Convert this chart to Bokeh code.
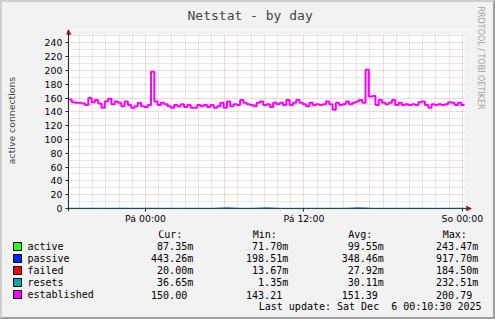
import numpy as np
from bokeh.plotting import figure
from bokeh.layouts import column
from bokeh.models import FixedTicker, Title, Arrow, NormalHead, Range1d, Span
from bokeh.core.properties import value
from bokeh.embed import file_html
from bokeh.resources import INLINE

# ---------------- data ----------------
TITLE = "Netstat - by day"
Y_LABEL = "active connections"
WATERMARK = "RRDTOOL / TOBI OETIKER"
X_TICKS = [0, 12, 24]                       # hours relative to Friday 00:00
X_TICK_LABELS = ["Pá 00:00", "Pá 12:00", "So 00:00"]
Y_TICKS = list(range(0, 241, 20))
T_START = -35 / 6                           # Thu 18:10
T_END = 24 + 1 / 6                          # Sat 00:10

# established connections, 15-minute samples from T_START
established = [158,
    158, 154, 153, 153, 152, 150, 160, 154, 157, 152, 146, 155, 159, 151, 155, 153,
    148, 155, 150, 146, 148, 153, 148, 147, 150, 198, 155, 150, 153, 151, 148, 146,
    150, 148, 151, 147, 150, 146, 146, 150, 148, 150, 147, 150, 146, 148, 153, 146,
    155, 148, 151, 150, 157, 153, 151, 150,
    148, 153, 155, 150, 151, 147, 153, 151, 153, 150, 157, 150, 153, 157, 153, 151,
    148, 153, 150, 151, 150, 151, 155, 151, 143, 153, 150, 151, 155, 151, 153, 155,
    157, 153, 201, 162, 163, 150, 157, 153, 151, 153, 157, 150, 153, 150, 151, 150,
    151, 150, 154, 155, 150, 146, 151, 150, 151, 150, 151, 154, 153, 150, 153, 150]

# small series, hourly samples from T_START
active = [0.09, 0.10, 0.08, 0.11, 0.09, 0.12, 0.10, 0.08, 0.09, 0.24, 0.10, 0.09, 0.08,
          0.07, 0.09, 0.11, 0.10, 0.09, 0.12, 0.10, 0.08, 0.09, 0.10, 0.11, 0.09, 0.08,
          0.10, 0.11, 0.09, 0.10, 0.087]
passive = [0.30, 0.28, 0.35, 0.25, 0.30, 0.22, 0.33, 0.27, 0.31, 0.29, 0.26, 0.30, 0.92,
           0.28, 0.30, 0.88, 0.27, 0.25, 0.31, 0.29, 0.33, 0.30, 0.90, 0.28, 0.26, 0.30,
           0.32, 0.29, 0.27, 0.31, 0.44]
failed = [0.02, 0.03, 0.02, 0.01, 0.03, 0.02, 0.18, 0.02, 0.03, 0.02, 0.01, 0.02, 0.03,
          0.02, 0.02, 0.03, 0.02, 0.01, 0.02, 0.03, 0.02, 0.02, 0.03, 0.02, 0.01, 0.02,
          0.03, 0.02, 0.02, 0.03, 0.02]
resets = [0.02, 0.01, 0.03, 0.02, 0.23, 0.02, 0.01, 0.03, 0.02, 0.02, 0.01, 0.02, 0.03,
          0.02, 0.01, 0.02, 0.03, 0.02, 0.01, 0.02, 0.03, 0.02, 0.15, 0.02, 0.01, 0.02,
          0.03, 0.02, 0.01, 0.02, 0.037]

legend_names = ["active", "passive", "failed", "resets", "established"]
legend_colors = ["#22ff22", "#0022ff", "#ff0000", "#00aaaa", "#ff00ff"]
cur_vals = ["87.35m", "443.26m", "20.00m", "36.65m", "150.00"]
min_vals = ["71.70m", "198.51m", "13.67m", "1.35m", "143.21"]
avg_vals = ["99.55m", "348.46m", "27.92m", "30.11m", "151.39"]
max_vals = ["243.47m", "917.70m", "184.50m", "232.51m", "200.79"]
headers = ["Cur:", "Min:", "Avg:", "Max:"]
last_update = "Last update: Sat Dec \u00a06 00:10:30 2025"

# ---------------- layout (page pixel geometry) ----------------
W, H = 495, 319
BRD = 2                              # css border width
SPLIT = 230                          # page y where legend panel starts
DL, DR, DT, DB = 64, 464, 32, 208    # data area in page pixels
FL, FR, FT, FB = 62, 471, 27, 211    # frame in page pixels
Y_END = 252.0
MONO = "DejaVu Sans Mono"
SANS = "DejaVu Sans"
BG = "#f2f2f2"

PXH = (DR - DL) / (T_END - T_START)   # px per hour
PPU = (DB - DT) / Y_END               # px per unit
xr = Range1d(T_START - (DL - FL) / PXH, T_END + (FR - DR) / PXH)
yr = Range1d(-(FB - DB) / PPU, Y_END + (DT - FT) / PPU)

MW, MH = W - 2 * BRD, SPLIT - BRD
p = figure(width=MW, height=MH, x_range=xr, y_range=yr,
           min_border_left=FL - BRD, min_border_right=MW - (FR - BRD),
           min_border_top=FT - BRD, min_border_bottom=MH - (FB - BRD),
           toolbar_location=None, output_backend="svg")
p.frame_align = False
p.border_fill_color = BG
p.background_fill_color = "#ffffff"
p.outline_line_color = None

# title
p.title.text = TITLE
p.title.text_font = MONO
p.title.text_font_size = "13px"
p.title.text_font_style = "normal"
p.title.align = "left"
p.title.offset = 183 - FL
p.title.vertical_align = "top"
p.title.standoff = 10

# watermark
p.add_layout(Title(text=WATERMARK, text_font=SANS, text_font_size="8px",
                   text_font_style="normal", text_color="#a0a0a0", align="left",
                   offset=-23, standoff=9), "right")

# grids
p.xgrid.ticker = FixedTicker(ticks=[0, 6, 12, 18, 24],
                             minor_ticks=[h for h in range(-5, 25) if h % 6 != 0])
p.ygrid.ticker = FixedTicker(ticks=list(range(0, 241, 20)),
                             minor_ticks=list(range(10, 251, 20)))
for g in (p.xgrid, p.ygrid):
    g.grid_line_color = "#de4f4f"
    g.grid_line_alpha = 0.45
    g.grid_line_dash = "1 1"
    g.minor_grid_line_color = "#8f8f8f"
    g.minor_grid_line_alpha = 0.4
    g.minor_grid_line_dash = "1 1"

# axes (rules drawn with spans at the data origin)
p.xaxis.ticker = FixedTicker(ticks=X_TICKS)
p.xaxis.major_label_overrides = {t: l for t, l in zip(X_TICKS, X_TICK_LABELS)}
p.yaxis.ticker = FixedTicker(ticks=Y_TICKS)
for ax in (p.xaxis, p.yaxis):
    ax.axis_line_color = None
    ax.major_label_text_font = SANS
    ax.major_label_text_font_size = "9.4px"
    ax.major_label_text_color = "#000000"
    ax.minor_tick_line_color = None
    ax.major_tick_line_color = "#1f1f1f"
p.xaxis.major_tick_in = FB - DB
p.xaxis.major_tick_out = 0
p.xaxis.major_label_standoff = 1
p.yaxis.major_tick_in = DL - FL
p.yaxis.major_tick_out = 1
p.yaxis.major_label_standoff = 3
p.yaxis.axis_label = Y_LABEL
p.yaxis.axis_label_text_font = SANS
p.yaxis.axis_label_text_font_size = "9.3px"
p.yaxis.axis_label_text_font_style = "normal"
p.yaxis.axis_label_standoff = 25

# margins of frame outside the data area (hide grid there)
p.quad(left=[xr.start, T_END, xr.start, xr.start], right=[T_START, xr.end, xr.end, xr.end],
       bottom=[yr.start, yr.start, yr.start, Y_END], top=[yr.end, yr.end, 0, yr.end],
       fill_color=BG, line_color=None)

# data
t15 = T_START + 0.25 * np.arange(len(established))
th = T_START + 1.0 * np.arange(len(active))
for vals, col in zip([active, passive, failed, resets], legend_colors[:4]):
    p.line(th, vals, line_color=col, line_width=1)
p.step(t15, established, mode="before", line_color=legend_colors[4], line_width=2)

# axis rules and arrows
p.add_layout(Span(location=0, dimension="width", line_color="#1f4a4a", line_width=1))
p.add_layout(Span(location=T_START, dimension="height", line_color="#1f1f1f", line_width=1))
AC = "#801f1f"
p.add_layout(Arrow(x_start=T_END, y_start=0, x_end=xr.end, y_end=0, line_alpha=0,
                   end=NormalHead(size=5, fill_color=AC, line_color=AC, line_width=0.5)))
p.add_layout(Arrow(x_start=T_START, y_start=Y_END, x_end=T_START, y_end=yr.end,
                   line_alpha=0,
                   end=NormalHead(size=5, fill_color=AC, line_color=AC, line_width=0.5)))

# ---------------- legend panel (page pixel coordinates) ----------------
LH = H - BRD - SPLIT
q = figure(width=MW, height=LH, x_range=Range1d(BRD, W - BRD), y_range=Range1d(H - BRD, SPLIT),
           min_border=0, x_axis_type=None, y_axis_type=None,
           toolbar_location=None, output_backend="svg")
q.frame_align = False
q.border_fill_color = BG
q.background_fill_color = BG
q.outline_line_color = None
q.grid.visible = False

CW = 6.02
ROW0, ROWH = 246, 12
rows_y = [ROW0 + ROWH * i for i in range(len(legend_names))]
q.quad(left=13, right=21, top=[y - 4 for y in rows_y], bottom=[y + 4 for y in rows_y],
       fill_color=legend_colors, line_color="#000000", line_width=1)
q.text(x=27, y=rows_y, text=legend_names, text_font=value(MONO), text_font_size="10px",
       text_baseline="middle", text_align="left")
q.text(x=[157.7, 252.3, 347.7, 442.3], y=234, text=headers, text_font=value(MONO),
       text_font_size="10px", text_baseline="middle", text_align="left")
col_ends = [192.7, 287.7, 383.3, 477.7]
vx, vy, vt = [], [], []
for ce, vals in zip(col_ends, [cur_vals, min_vals, avg_vals, max_vals]):
    for y, v in zip(rows_y, vals):
        vx.append(ce if v.endswith("m") else ce - CW)
        vy.append(y)
        vt.append(v)
q.text(x=vx, y=vy, text=vt, text_font=value(MONO), text_font_size="10px",
       text_baseline="middle", text_align="right")
q.text(x=[481], y=[306], text=[last_update], text_font=value(MONO), text_font_size="10px",
       text_baseline="middle", text_align="right")

layout = column(p, q, spacing=0,
                styles={"border-style": "solid", "border-width": f"{BRD}px",
                        "border-color": "#cfcfcf #9e9e9e #9e9e9e #cfcfcf",
                        "background-color": BG})
open("out.html", "w").write(file_html(layout, INLINE))
